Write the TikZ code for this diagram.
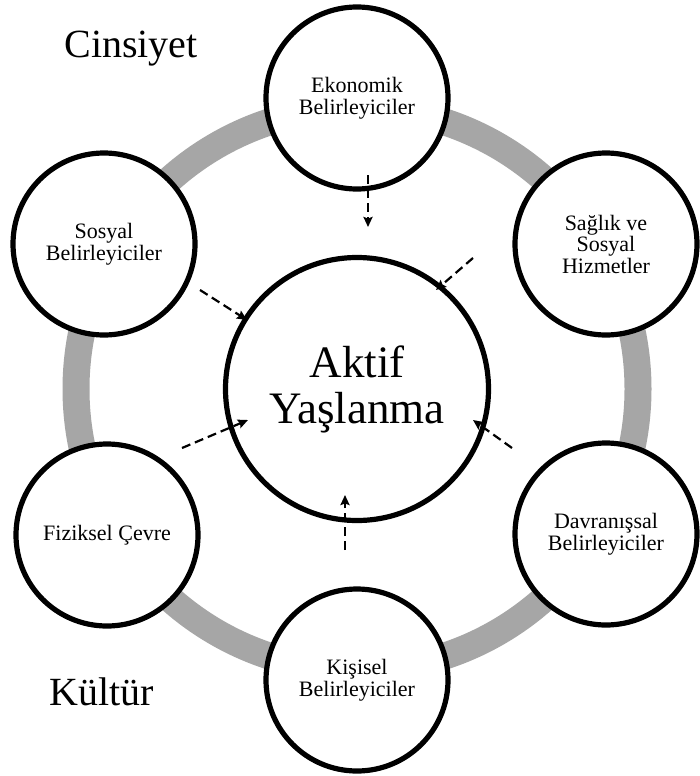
\documentclass[tikz,border=0pt]{standalone}
\usepackage{fontspec}
\setmainfont{Liberation Serif}
\usetikzlibrary{arrows.meta}
\begin{document}
\begin{tikzpicture}[x=1pt,y=-1pt,
  smallc/.style={circle,draw=black,line width=5.2pt,fill=white,minimum size=182pt,inner sep=0pt,align=center,font=\fontsize{22}{21.5}\selectfont},
  bigc/.style={circle,draw=black,line width=5.2pt,fill=white,minimum size=263pt,inner sep=0pt,align=center,font=\fontsize{45}{46}\selectfont},
  ringline/.style={draw={rgb,255:red,166;green,166;blue,166},line width=27pt},
  dasharrow/.style={line width=2.2pt,dash pattern=on 9pt off 5pt,-{Stealth[length=10pt,width=9pt,inset=1.5pt]}},
  bigword/.style={font=\fontsize{40}{40}\selectfont,anchor=base,inner sep=0pt}]
\useasboundingbox (0,0) rectangle (699,776);
\fill[white] (0,0) rectangle (699,776);
\coordinate (mid) at (357,389);
\draw[ringline] (mid) circle[radius=281];
\node[bigc] (aktif) at (357,389) {Aktif\\Yaşlanma};
\node[smallc] (eko) at (357,98) {Ekonomik\\Belirleyiciler};
\node[smallc] (sag) at (606,244) {Sağlık ve\\Sosyal\\Hizmetler};
\node[smallc] (dav) at (606,534) {Davranışsal\\Belirleyiciler};
\node[smallc] (kis) at (357,680) {Kişisel\\Belirleyiciler};
\node[smallc] (fiz) at (107,535) {Fiziksel Çevre};
\node[smallc] (sos) at (104,244) {Sosyal\\Belirleyiciler};
\node[bigword] (cins) at (131,58) {Cinsiyet};
\node[bigword] (kult) at (102,705) {Kültür};
\coordinate (ekoS) at (368,175);
\coordinate (ekoE) at (368,227);
\coordinate (sagS) at (473,258);
\coordinate (sagE) at (436,290);
\coordinate (sosS) at (200,290);
\coordinate (sosE) at (247,320);
\coordinate (fizS) at (182,448);
\coordinate (fizE) at (248,420);
\coordinate (kisS) at (345,550);
\coordinate (kisE) at (345,495);
\coordinate (davS) at (512,448);
\coordinate (davE) at (473,420);
\draw[dasharrow] (ekoS) -- (ekoE);
\draw[dasharrow] (sagS) -- (sagE);
\draw[dasharrow] (sosS) -- (sosE);
\draw[dasharrow] (fizS) -- (fizE);
\draw[dasharrow] (kisS) -- (kisE);
\draw[dasharrow] (davS) -- (davE);
\end{tikzpicture}
\end{document}
